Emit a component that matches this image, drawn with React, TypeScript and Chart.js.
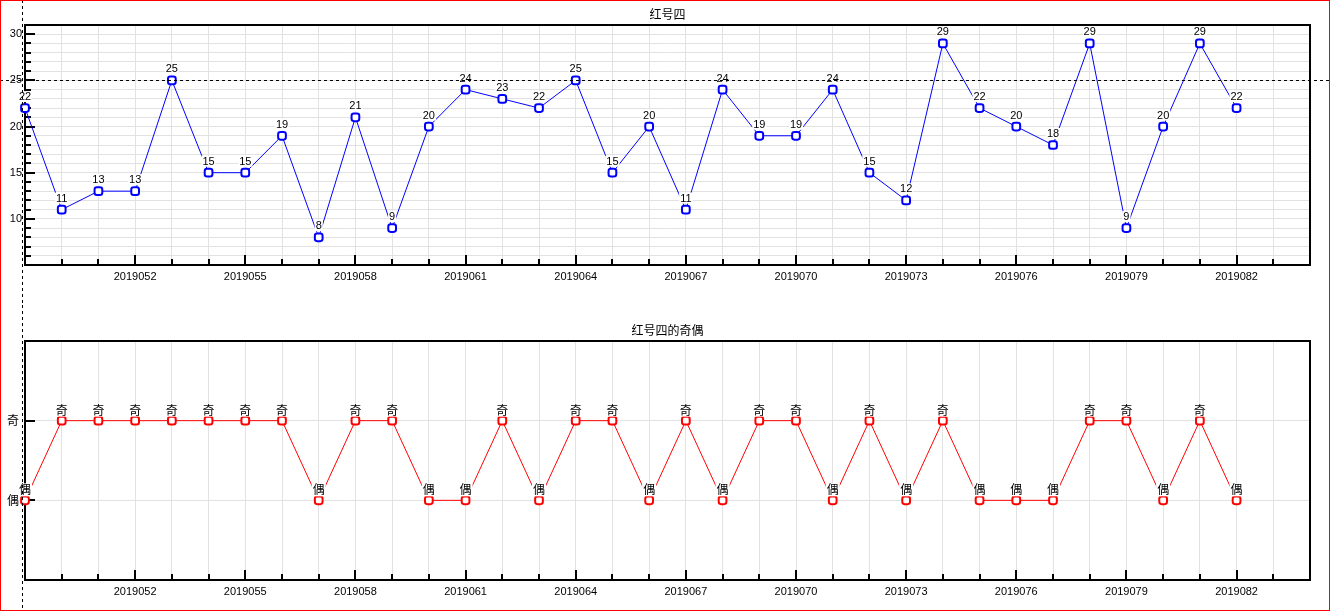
import React, { useEffect, useRef } from 'react';
import { Chart, registerables } from 'chart.js';

Chart.register(...registerables);

const periods = [
  '2019049', '2019050', '2019051', '2019052', '2019053', '2019054', '2019055', '2019056', '2019057',
  '2019058', '2019059', '2019060', '2019061', '2019062', '2019063', '2019064', '2019065', '2019066',
  '2019067', '2019068', '2019069', '2019070', '2019071', '2019072', '2019073', '2019074', '2019075',
  '2019076', '2019077', '2019078', '2019079', '2019080', '2019081', '2019082', '2019083', '2019084',
];
const redFour = [22, 11, 13, 13, 25, 15, 15, 19, 8, 21, 9, 20, 24, 23, 22, 25, 15, 20, 11, 24, 19, 19, 24, 15, 12, 29, 22, 20, 18, 29, 9, 20, 29, 22];
const parity = ['偶', '奇', '奇', '奇', '奇', '奇', '奇', '奇', '偶', '奇', '奇', '偶', '偶', '奇', '偶', '奇', '奇', '偶', '奇', '偶', '奇', '奇', '偶', '奇', '偶', '奇', '偶', '偶', '偶', '奇', '奇', '偶', '奇', '偶'];
const parityLabels = ['偶', '奇'];
const topYLabels = [10, 15, 20, 25, 30];
const topTitle = '红号四';
const bottomTitle = '红号四的奇偶';
const cursorValue = 25;

const W = 1330;
const H1 = 305;
const H2 = 306;
const GRID = '#e2e2e2';
const NUM_FONT = '"Liberation Sans", Arial, sans-serif';
const CJK_FONT = '"Noto Sans CJK SC", sans-serif';
const CURSOR_X = 22.5;

function line(ctx: CanvasRenderingContext2D, x1: number, y1: number, x2: number, y2: number) {
  ctx.beginPath();
  ctx.moveTo(x1, y1);
  ctx.lineTo(x2, y2);
  ctx.stroke();
}

function drawFrameAndXTicks(chart: any) {
  const { ctx, chartArea: a } = chart;
  const x = chart.scales.x;
  ctx.save();
  ctx.strokeStyle = '#000';
  ctx.lineWidth = 2;
  ctx.strokeRect(a.left, a.top, a.right - a.left, a.bottom - a.top);
  for (let i = 1; i < periods.length - 1; i++) {
    const px = Math.round(x.getPixelForValue(i));
    const len = i % 3 === 0 ? 10 : 6;
    line(ctx, px, a.bottom, px, a.bottom - len);
  }
  ctx.restore();
}

function drawTitle(chart: any, text: string, y: number) {
  const { ctx, chartArea: a } = chart;
  ctx.save();
  ctx.font = `12px ${CJK_FONT}`;
  ctx.fillStyle = '#000';
  ctx.textAlign = 'center';
  ctx.textBaseline = 'middle';
  ctx.fillText(text, (a.left + a.right) / 2, y);
  ctx.restore();
}

function drawPointLabels(chart: any, texts: string[], font: string, gap: number, boxH: number) {
  const { ctx } = chart;
  const meta = chart.getDatasetMeta(0);
  ctx.save();
  ctx.font = font;
  ctx.textAlign = 'center';
  ctx.textBaseline = 'alphabetic';
  meta.data.forEach((pt: any, i: number) => {
    const t = texts[i];
    const w = ctx.measureText(t).width;
    const by = pt.y - gap;
    ctx.fillStyle = '#fff';
    ctx.fillRect(pt.x - w / 2 - 1, by - boxH, w + 2, boxH + 2);
    ctx.fillStyle = '#000';
    ctx.fillText(t, pt.x, by);
  });
  ctx.restore();
}

function drawCursor(chart: any, withHorizontal: boolean) {
  const { ctx } = chart;
  ctx.save();
  ctx.strokeStyle = '#000';
  ctx.lineWidth = 1;
  ctx.setLineDash([3, 3]);
  line(ctx, CURSOR_X, 0, CURSOR_X, chart.height);
  if (withHorizontal) {
    const y = Math.round(chart.scales.y.getPixelForValue(cursorValue)) + 0.5;
    line(ctx, 0, y, chart.width, y);
  }
  ctx.restore();
}

const topPlugin = {
  id: 'topDecor',
  beforeDatasetsDraw(chart: any) {
    const { ctx, chartArea: a } = chart;
    const y = chart.scales.y;
    drawFrameAndXTicks(chart);
    ctx.save();
    ctx.strokeStyle = '#000';
    ctx.lineWidth = 2;
    for (let v = Math.ceil(y.min) + 1; v < y.max; v++) {
      const py = Math.round(y.getPixelForValue(v));
      const len = v % 5 === 0 ? 10 : 6;
      line(ctx, a.left, py, a.left + len, py);
    }
    ctx.restore();
  },
  afterDatasetsDraw(chart: any) {
    drawPointLabels(chart, redFour.map(String), `11px ${NUM_FONT}`, 8, 9);
  },
  afterDraw(chart: any) {
    drawTitle(chart, topTitle, 14);
    drawCursor(chart, true);
  },
};

const bottomPlugin = {
  id: 'bottomDecor',
  beforeDatasetsDraw(chart: any) {
    const { ctx, chartArea: a } = chart;
    const y = chart.scales.y;
    drawFrameAndXTicks(chart);
    ctx.save();
    ctx.strokeStyle = '#000';
    ctx.lineWidth = 2;
    parityLabels.forEach((_, v) => {
      const py = Math.round(y.getPixelForValue(v));
      line(ctx, a.left, py, a.left + 10, py);
    });
    ctx.restore();
  },
  afterDatasetsDraw(chart: any) {
    drawPointLabels(chart, parity, `12px ${CJK_FONT}`, 6, 11);
  },
  afterDraw(chart: any) {
    drawTitle(chart, bottomTitle, 25);
    drawCursor(chart, false);
  },
};

function xScale(height: number) {
  return {
    type: 'category' as const,
    offset: false,
    grid: { color: GRID, lineWidth: 1, drawTicks: false },
    border: { display: false },
    ticks: {
      autoSkip: false,
      maxRotation: 0,
      padding: 5,
      color: '#000',
      font: { family: NUM_FONT, size: 11 },
      callback: (_v: any, i: number) => (i > 0 && i % 3 === 0 ? periods[i] : ''),
    },
    afterFit: (s: any) => {
      s.height = height;
    },
  };
}

export default function App() {
  const topRef = useRef<HTMLCanvasElement>(null);
  const bottomRef = useRef<HTMLCanvasElement>(null);

  useEffect(() => {
    const top = new Chart(topRef.current!, {
      type: 'line',
      data: {
        labels: periods,
        datasets: [
          {
            data: redFour,
            borderColor: '#0000ff',
            borderWidth: 1,
            tension: 0,
            pointStyle: 'rectRounded',
            pointRadius: 4.5,
            pointBorderWidth: 2,
            pointBackgroundColor: '#ffffff',
            pointBorderColor: '#0000ff',
            clip: false as any,
          },
        ],
      },
      options: {
        animation: false,
        responsive: false,
        devicePixelRatio: 1,
        layout: { padding: { left: 0, right: 20, top: 25, bottom: 0 } },
        plugins: { legend: { display: false }, tooltip: { enabled: false }, title: { display: false } },
        events: [],
        scales: {
          x: xScale(40) as any,
          y: {
            type: 'linear',
            min: 5,
            max: 31,
            grid: { color: GRID, lineWidth: 1, drawTicks: false },
            border: { display: false },
            ticks: {
              stepSize: 1,
              autoSkip: false,
              padding: 3,
              color: '#000',
              font: { family: NUM_FONT, size: 11 },
              callback: (v: any) => (topYLabels.includes(Number(v)) ? String(v) : ''),
            },
            afterFit: (s: any) => {
              s.width = 25;
            },
          },
        },
      },
      plugins: [topPlugin],
    });

    const bottom = new Chart(bottomRef.current!, {
      type: 'line',
      data: {
        labels: periods,
        datasets: [
          {
            data: parity.map((p) => parityLabels.indexOf(p)),
            borderColor: '#ff0000',
            borderWidth: 1,
            tension: 0,
            pointStyle: 'rectRounded',
            pointRadius: 4.5,
            pointBorderWidth: 2,
            pointBackgroundColor: '#ffffff',
            pointBorderColor: '#ff0000',
            clip: false as any,
          },
        ],
      },
      options: {
        animation: false,
        responsive: false,
        devicePixelRatio: 1,
        layout: { padding: { left: 0, right: 20, top: 36, bottom: 0 } },
        plugins: { legend: { display: false }, tooltip: { enabled: false }, title: { display: false } },
        events: [],
        scales: {
          x: xScale(31) as any,
          y: {
            type: 'linear',
            min: -1,
            max: 2,
            afterBuildTicks: (s: any) => {
              s.ticks = parityLabels.map((_, v) => ({ value: v }));
            },
            grid: { color: GRID, lineWidth: 1, drawTicks: false },
            border: { display: false },
            ticks: {
              autoSkip: false,
              padding: 6,
              color: '#000',
              font: { family: CJK_FONT, size: 12 },
              callback: (v: any) => parityLabels[Number(v)] ?? '',
            },
            afterFit: (s: any) => {
              s.width = 25;
            },
          },
        },
      },
      plugins: [bottomPlugin],
    });

    return () => {
      top.destroy();
      bottom.destroy();
    };
  }, []);

  return (
    <div style={{ position: 'absolute', left: 0, top: 0, width: W, height: H1 + H2, background: '#fff' }}>
      <canvas ref={topRef} width={W} height={H1} style={{ position: 'absolute', left: 0, top: 0 }} />
      <canvas ref={bottomRef} width={W} height={H2} style={{ position: 'absolute', left: 0, top: H1 }} />
      <div
        style={{
          position: 'absolute',
          left: 0,
          top: 0,
          width: W,
          height: H1 + H2,
          boxSizing: 'border-box',
          border: '1px solid #ff0000',
          pointerEvents: 'none',
        }}
      />
    </div>
  );
}
